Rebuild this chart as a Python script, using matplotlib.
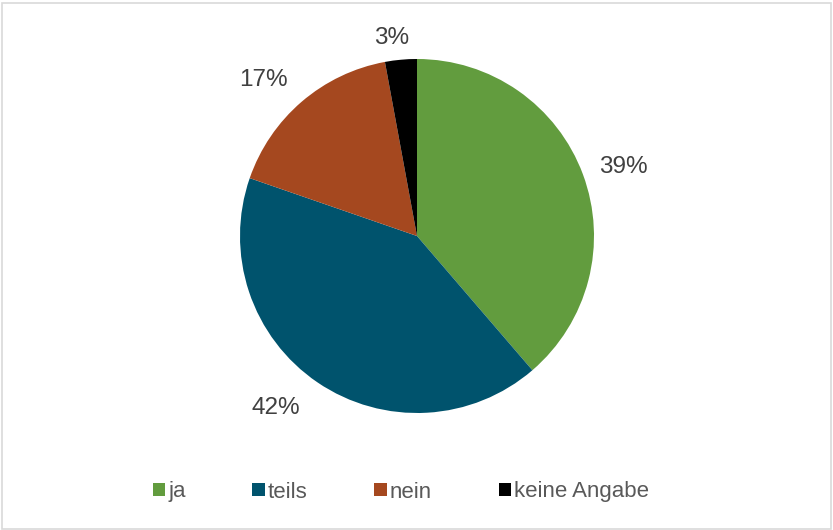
import matplotlib
matplotlib.use("Agg")
import matplotlib.pyplot as plt
from matplotlib.patches import Rectangle
import numpy as np

categories = ["ja", "teils", "nein", "keine Angabe"]
values = [38.7, 41.6, 16.8, 2.9]
colors = ["#629C3E", "#00536D", "#A5481F", "#000000"]
label_dist = [1.227, 1.257, 1.238, 1.128]
label_rot = [-1.8, -5.2, 3.9, 2.0]

plt.rcParams['font.family'] = ['Liberation Sans', 'DejaVu Sans']

fig = plt.figure(figsize=(8.33, 5.30), dpi=100)
W, H = 833, 530
cx, cy, r = 417, 236, 177
ax = fig.add_axes([(cx - r) / W, 1 - (cy + r) / H, 2 * r / W, 2 * r / H])
wedges, _ = ax.pie(values, colors=colors, startangle=90, counterclock=False,
                   radius=1, wedgeprops=dict(linewidth=0))
ax.set_xlim(-1, 1)
ax.set_ylim(-1, 1)
ax.set_aspect('equal')
ax.axis('off')

total = sum(values)
for w, v, d, o in zip(wedges, values, label_dist, label_rot):
    ang = np.deg2rad((w.theta1 + w.theta2) / 2 + o)
    ax.text(d * np.cos(ang), d * np.sin(ang), f"{round(v / total * 100)}%",
            ha='center', va='center', fontsize=17.5, color='#404040', clip_on=False)

handles = [Rectangle((0, 0), 1, 1, facecolor=c, edgecolor='none') for c in colors]
leg = fig.legend(handles, categories, ncol=4, loc='center',
                 bbox_to_anchor=(401 / W, 1 - 492 / H), frameon=False,
                 fontsize=16, handlelength=0.55, handleheight=0.55,
                 handletextpad=0.15, columnspacing=3.0, labelcolor='#595959')

fig.patches.append(Rectangle((1.5 / W, 1.5 / H), (W - 4) / W, (H - 4) / H,
                             transform=fig.transFigure, fill=False,
                             edgecolor='#D9D9D9', linewidth=1.2))

fig.savefig("out.png", dpi=100, facecolor='white')
